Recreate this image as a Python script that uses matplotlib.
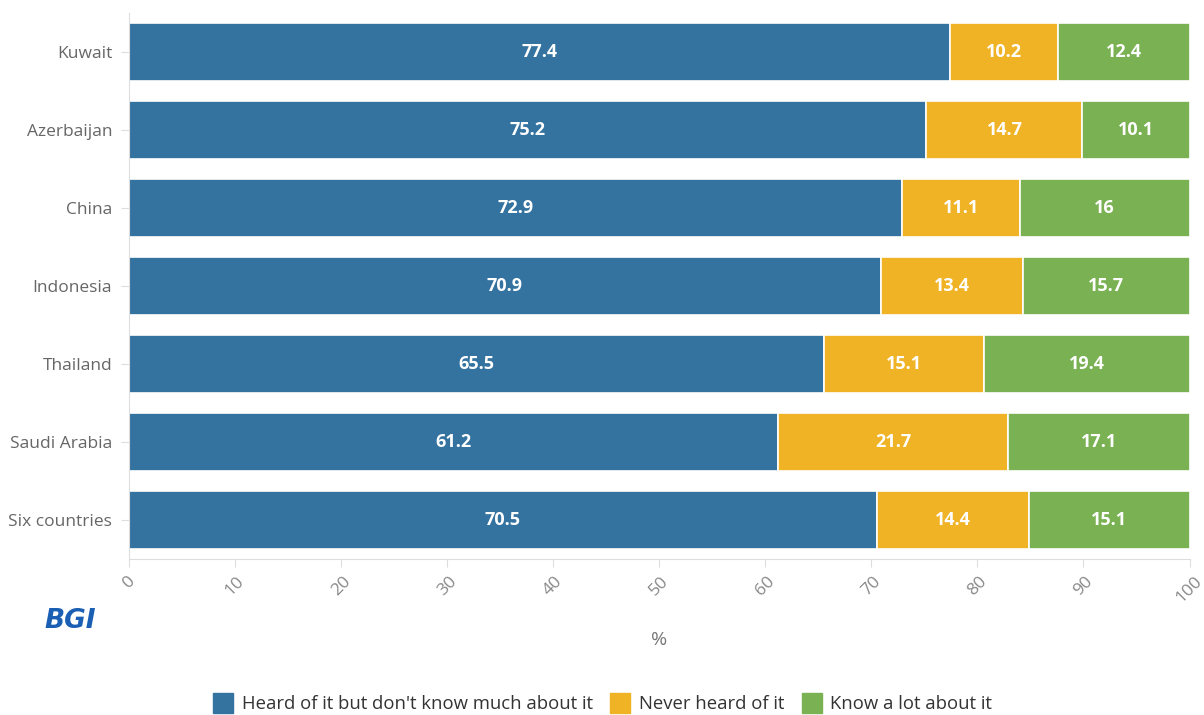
import matplotlib
matplotlib.use("Agg")
import matplotlib.pyplot as plt
from matplotlib.lines import Line2D

categories = ["Kuwait", "Azerbaijan", "China", "Indonesia", "Thailand", "Saudi Arabia", "Six countries"]
heard = [77.4, 75.2, 72.9, 70.9, 65.5, 61.2, 70.5]
never = [10.2, 14.7, 11.1, 13.4, 15.1, 21.7, 14.4]
know = [12.4, 10.1, 16, 15.7, 19.4, 17.1, 15.1]
series_names = ["Heard of it but don't know much about it", "Never heard of it", "Know a lot about it"]
colors = ["#34729f", "#efb325", "#79b153"]
xticks = [0, 10, 20, 30, 40, 50, 60, 70, 80, 90, 100]

plt.rcParams['font.family'] = ['Open Sans', 'DejaVu Sans']
fig = plt.figure(figsize=(12.04, 7.15), dpi=100)
ax = fig.add_axes([0.107, 0.218, 0.881, 0.764])

y = list(range(len(categories)))
left = [0] * len(categories)
for vals, col in zip([heard, never, know], colors):
    bars = ax.barh(y, vals, left=left, height=0.75, color=col, edgecolor='white', linewidth=1.2)
    for b, v, l in zip(bars, vals, left):
        ax.text(l + v / 2, b.get_y() + b.get_height() / 2, f"{v:g}", ha='center', va='center',
                color='white', fontsize=13, fontweight='bold')
    left = [a + b for a, b in zip(left, vals)]

ax.set_ylim(len(categories) - 0.5, -0.5)
ax.set_xlim(0, 100)
ax.set_yticks(y)
ax.set_yticklabels(categories, fontsize=12.5, color='#666666')
ax.set_xticks(xticks)
ax.set_xticklabels([str(t) for t in xticks], rotation=45, ha='center', va='top', fontsize=12.5,
                   color='#888888', rotation_mode='default')
ax.tick_params(axis='x', length=6, color='#dddddd', pad=4)
ax.tick_params(axis='y', length=6, color='#dddddd', pad=6)
for s in ['top', 'right']:
    ax.spines[s].set_visible(False)
ax.spines['bottom'].set_color('#dddddd')
ax.spines['left'].set_color('#dddddd')
ax.set_xlabel('%', fontsize=14, color='#777777', labelpad=18)

fig.text(0.037, 0.131, "BGI", color='#1a5fb4', fontsize=19, fontweight='heavy', fontstyle='italic',
         va='center', ha='left', family=['DejaVu Sans'])

handles = [Line2D([0], [0], marker='s', linestyle='none', markersize=14, markerfacecolor=c, markeredgecolor=c)
           for c in colors]
fig.legend(handles, series_names, loc='center', bbox_to_anchor=(0.497, 0.015), ncol=3, frameon=False,
           fontsize=13.3, handletextpad=0.0, columnspacing=0.5, labelcolor='#333333')

fig.savefig("out.png", dpi=100, facecolor='white')
